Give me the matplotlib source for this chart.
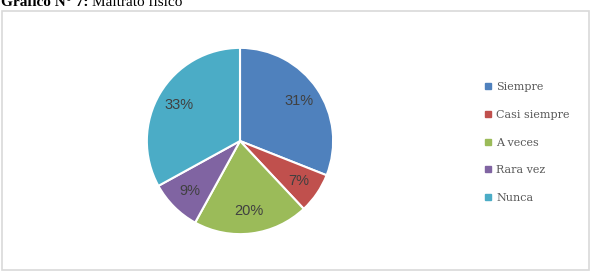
import matplotlib
matplotlib.use("Agg")
import matplotlib.pyplot as plt
from matplotlib.patches import Rectangle
from matplotlib.lines import Line2D

categories = ["Siempre", "Casi siempre", "A veces", "Rara vez", "Nunca"]
values = [31, 7, 20, 9, 33]
colors = ["#4F81BD", "#C0504D", "#9BBB59", "#8064A2", "#4BACC6"]

W, H = 600, 276
fig = plt.figure(figsize=(6, 2.76), dpi=100)

# chart frame
fig.patches.append(Rectangle((2 / W, 1 - 270 / H), 587 / W, 259 / H,
                             transform=fig.transFigure, fill=False,
                             edgecolor="#d9d9d9", linewidth=1.2))

# title (partially cut off at top, as in the reference)
renderer = fig.canvas.get_renderer()
t1 = fig.text(1 / W, 1 - 6 / H, "Gráfico N° 7:", family="Liberation Serif",
              fontweight="bold", fontsize=11, va="baseline", ha="left")
bb = t1.get_window_extent(renderer)
fig.text((bb.x1 + 3) / W, 1 - 6 / H, "Maltrato físico", family="Liberation Serif",
         fontsize=11, va="baseline", ha="left")

cx, cy, r = 240, 141, 95
ax = fig.add_axes([(cx - r) / W, 1 - (cy + r) / H, 2 * r / W, 2 * r / H])
wedges, texts, autotexts = ax.pie(
    values, colors=colors, startangle=90, counterclock=False,
    autopct="%1.0f%%", pctdistance=0.76,
    wedgeprops=dict(edgecolor="white", linewidth=1.5),
    textprops=dict(color="#404040", fontsize=10.5, family="Liberation Sans"))
ax.set_aspect("equal")
ax.set_xlim(-1.02, 1.02)
ax.set_ylim(-1.02, 1.02)
ax.axis("off")

handles = [Line2D([], [], marker="s", linestyle="none", markersize=4,
                  markerfacecolor=c, markeredgecolor=c) for c in colors]
fig.legend(handles, categories, loc="upper left",
           bbox_to_anchor=(485 / W, 1 - 82 / H), frameon=False,
           prop=dict(family="DejaVu Serif", size=8), labelcolor="#595959",
           handlelength=0.6, handletextpad=0.4, labelspacing=1.6,
           borderpad=0, borderaxespad=0)

fig.savefig("out.png", dpi=100)
